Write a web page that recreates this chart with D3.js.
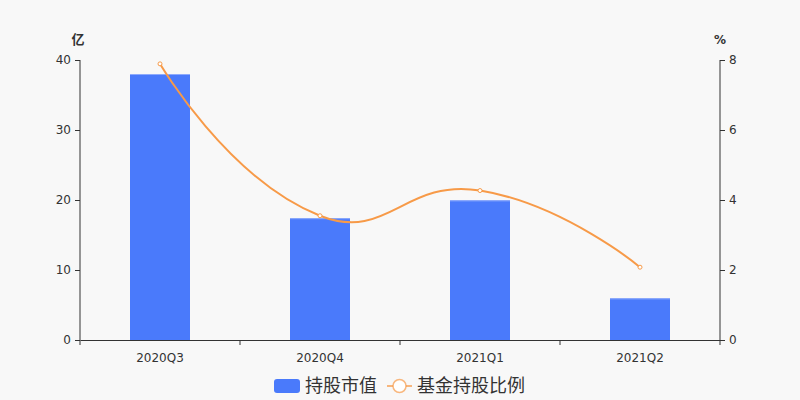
<!DOCTYPE html>
<html>
<head>
<meta charset="utf-8">
<script src="https://cdn.jsdelivr.net/npm/d3@7"></script>
<style>
  body { margin: 0; background: #f8f8f8; }
  text { font-family: "DejaVu Sans", "Noto Sans CJK SC", sans-serif; }
</style>
</head>
<body>
<script>
const quarters = ["2020Q3", "2020Q4", "2021Q1", "2021Q2"];
const holdValue = [38.0, 17.4, 19.95, 5.95];   // 亿
const fundRatio = [7.89, 3.55, 4.27, 2.08];    // %
const leftTicks = [0, 10, 20, 30, 40];
const rightTicks = [0, 2, 4, 6, 8];

const width = 800, height = 400;
const margin = {top: 60, right: 80, bottom: 60, left: 80};
const barColor = "#4a7afb", lineColor = "#f79a48", axisColor = "#333";

const svg = d3.select("body").append("svg")
  .attr("width", width).attr("height", height)
  .style("background", "#f8f8f8");

const x = d3.scaleBand().domain(quarters)
  .range([margin.left, width - margin.right]);
const yL = d3.scaleLinear().domain([0, 40]).range([height - margin.bottom, margin.top]);
const yR = d3.scaleLinear().domain([0, 8]).range([height - margin.bottom, margin.top]);

// bars
svg.append("g").selectAll("rect").data(holdValue).enter()
  .append("rect")
  .attr("x", (d, i) => x(quarters[i]) + x.bandwidth() / 2 - 30)
  .attr("width", 60)
  .attr("y", d => yL(d))
  .attr("height", d => yL(0) - yL(d))
  .attr("fill", barColor);
svg.append("g").selectAll("line").data(holdValue).enter()
  .append("line")
  .attr("x1", (d, i) => x(quarters[i]) + x.bandwidth() / 2 - 30)
  .attr("x2", (d, i) => x(quarters[i]) + x.bandwidth() / 2 + 30)
  .attr("y1", d => yL(d) + 0.5).attr("y2", d => yL(d) + 0.5)
  .attr("stroke", "#8eaafc").attr("stroke-width", 1);

// axes
const fmt = d => d;
const gx = svg.append("g").attr("transform", `translate(0,${height - margin.bottom})`)
  .call(d3.axisBottom(x).tickSize(0).tickPadding(13));
gx.selectAll(".tick")
  .append("line").attr("stroke", axisColor)
  .attr("x1", -x.bandwidth() / 2).attr("x2", -x.bandwidth() / 2).attr("y2", 5);
gx.append("line").attr("stroke", axisColor)
  .attr("x1", width - margin.right).attr("x2", width - margin.right).attr("y2", 5);

const gl = svg.append("g").attr("transform", `translate(${margin.left},0)`)
  .call(d3.axisLeft(yL).tickValues(leftTicks).tickFormat(fmt).tickSize(5).tickPadding(4));
const gr = svg.append("g").attr("transform", `translate(${width - margin.right},0)`)
  .call(d3.axisRight(yR).tickValues(rightTicks).tickFormat(fmt).tickSize(5).tickPadding(4));

[gx, gl, gr].forEach(g => {
  g.select(".domain").attr("stroke", axisColor);
  g.selectAll(".tick line").attr("stroke", axisColor);
  g.selectAll("text").attr("fill", axisColor).style("font-size", "12px")
    .style("font-family", "'DejaVu Sans', sans-serif");
});
gl.select(".domain").attr("d", `M0,${margin.top}V${height - margin.bottom}`);
gr.select(".domain").attr("d", `M0,${margin.top}V${height - margin.bottom}`);

svg.append("text").attr("x", margin.left - 2).attr("y", 44).attr("text-anchor", "middle")
  .style("font-size", "13px").style("font-weight", "bold").attr("fill", axisColor).text("亿");
svg.append("text").attr("x", width - margin.right).attr("y", 44).attr("text-anchor", "middle")
  .style("font-size", "12px").style("font-weight", "bold").attr("fill", axisColor).text("%");

// smooth line (echarts-like smoothing, factor 0.5)
const pts = fundRatio.map((d, i) => [x(quarters[i]) + x.bandwidth() / 2, yR(d)]);
function smoothPath(p, s) {
  const path = d3.path();
  path.moveTo(p[0][0], p[0][1]);
  let cp0 = p[0];
  for (let i = 1; i < p.length; i++) {
    const cur = p[i], prev = p[i - 1], next = p[i + 1];
    let cp1 = cur, nextCp = cur;
    if (next) {
      const vx = next[0] - prev[0], vy = next[1] - prev[1];
      const l0 = Math.hypot(cur[0] - prev[0], cur[1] - prev[1]);
      const l1 = Math.hypot(next[0] - cur[0], next[1] - cur[1]);
      const r = l1 / (l0 + l1);
      cp1 = [cur[0] - vx * s * (1 - r), cur[1] - vy * s * (1 - r)];
      nextCp = [cur[0] + vx * s * r, cur[1] + vy * s * r];
    }
    path.bezierCurveTo(cp0[0], cp0[1], cp1[0], cp1[1], cur[0], cur[1]);
    cp0 = nextCp;
  }
  return path.toString();
}
svg.append("path").attr("d", smoothPath(pts, 0.5))
  .attr("fill", "none").attr("stroke", lineColor).attr("stroke-width", 2);
svg.append("g").selectAll("circle").data(pts).enter()
  .append("circle")
  .attr("cx", d => d[0]).attr("cy", d => d[1]).attr("r", 2)
  .attr("fill", "#fff").attr("stroke", lineColor).attr("stroke-width", 1);

// legend
const lg = svg.append("g");
lg.append("rect").attr("x", 274).attr("y", 379).attr("width", 26).attr("height", 14)
  .attr("rx", 3).attr("fill", barColor);
lg.append("text").attr("x", 305).attr("y", 392).style("font-size", "18px")
  .attr("fill", axisColor).text("持股市值");
lg.append("line").attr("x1", 387).attr("x2", 412).attr("y1", 386).attr("y2", 386)
  .attr("stroke", lineColor).attr("stroke-width", 2).attr("stroke-opacity", 0.7);
lg.append("circle").attr("cx", 399.5).attr("cy", 386).attr("r", 6.5)
  .attr("fill", "#fff").attr("stroke", lineColor).attr("stroke-width", 1.5).attr("stroke-opacity", 0.7);
lg.append("text").attr("x", 417).attr("y", 392).style("font-size", "18px")
  .attr("fill", axisColor).text("基金持股比例");
</script>
</body>
</html>
